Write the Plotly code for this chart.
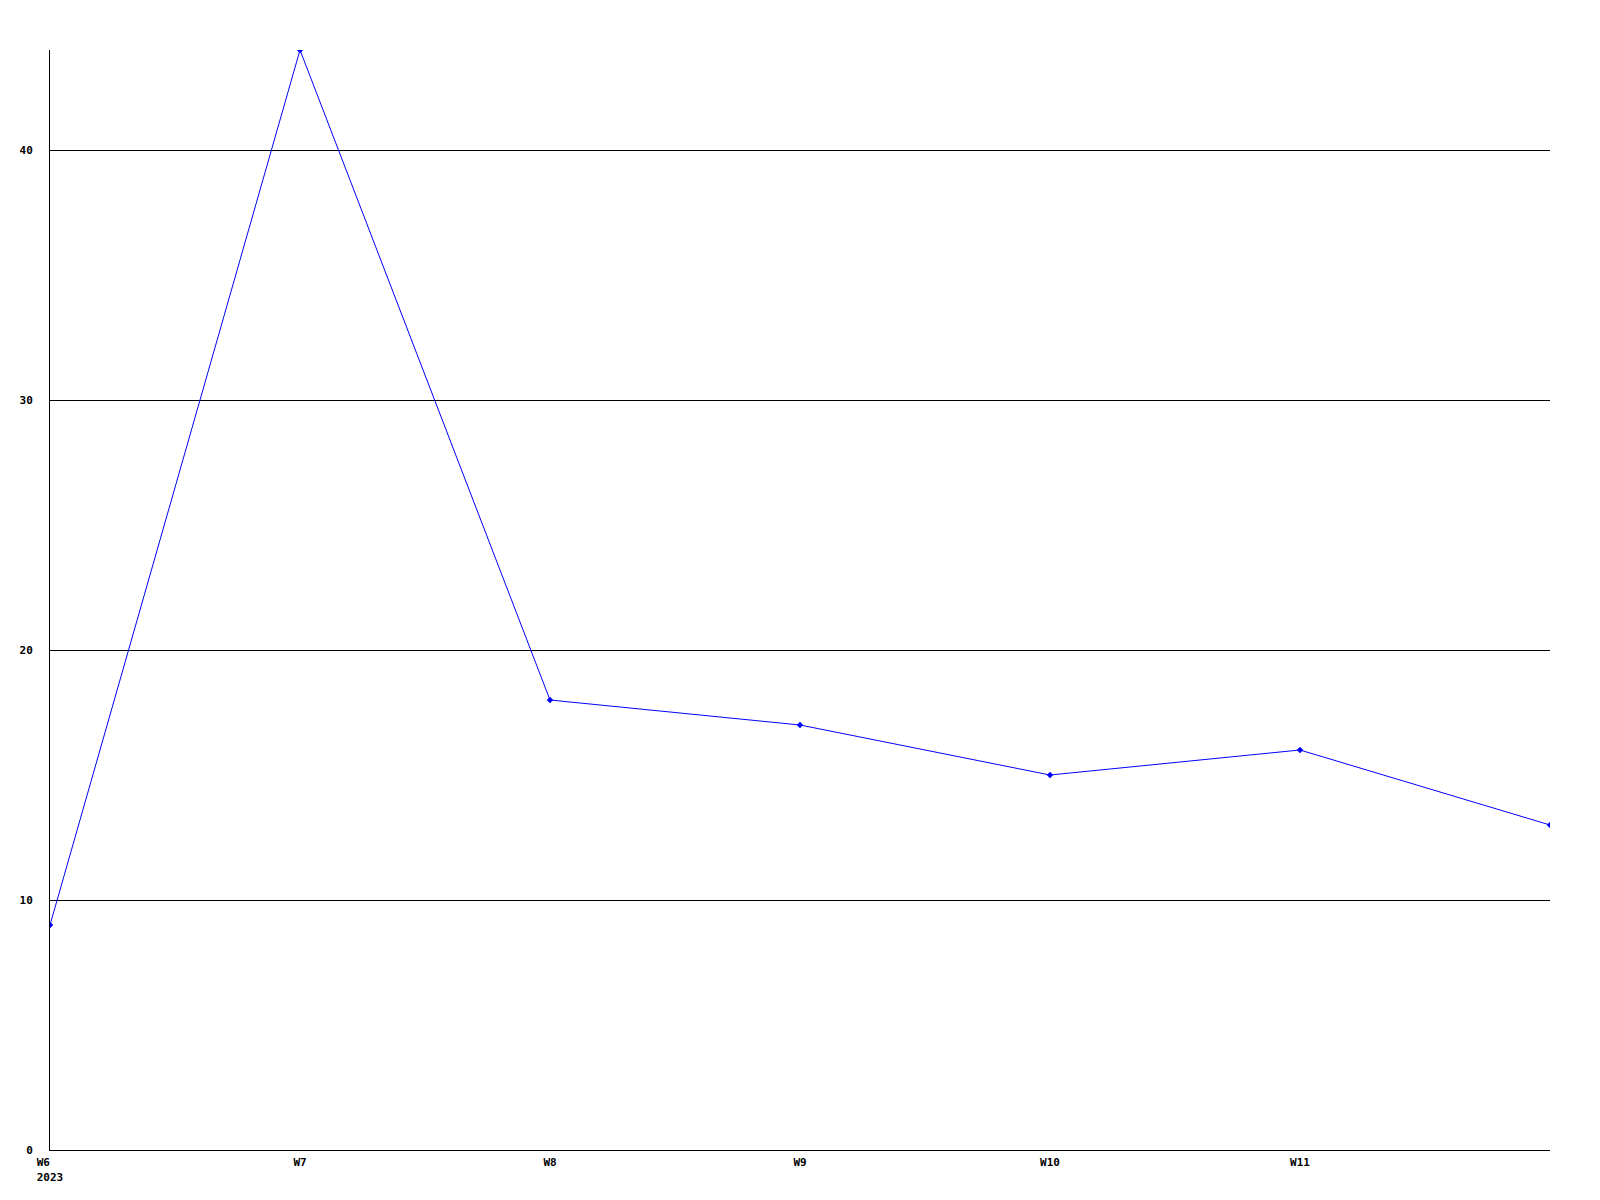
import plotly.graph_objects as go

weeks = ["W6", "W7", "W8", "W9", "W10", "W11", "W12"]
values = [9, 44, 18, 17, 15, 16, 13]
tick_labels = ["W6\u00a0\u00a0<br>2023", "W7", "W8", "W9", "W10", "W11"]
y_ticks = [0, 10, 20, 30, 40]

x_idx = list(range(len(weeks)))

fig = go.Figure()
fig.add_trace(go.Scatter(
    x=x_idx, y=values, mode="lines+markers",
    line=dict(color="#0000ff", width=1),
    marker=dict(symbol="diamond", size=5, color="#0000ff"),
    hoverinfo="x+y",
))

font = dict(family="DejaVu Sans Mono", size=11, color="black", weight="bold")

fig.update_layout(
    width=1600, height=1200, autosize=False,
    margin=dict(l=42, r=58, t=42, b=58),
    paper_bgcolor="white", plot_bgcolor="white",
    showlegend=False,
    xaxis=dict(
        range=[0, 6], tickmode="array", tickvals=x_idx[:len(tick_labels)], ticktext=tick_labels,
        showgrid=False, zeroline=False, showline=True, linecolor="black", linewidth=1,
        ticks="", tickfont=font, ticklabelstandoff=2,
    ),
    yaxis=dict(
        range=[0, 44], tickmode="array", tickvals=y_ticks, ticktext=[str(v) for v in y_ticks],
        showgrid=True, gridcolor="black", gridwidth=1, zeroline=False,
        showline=True, linecolor="black", linewidth=1,
        ticks="", tickfont=font, ticklabelstandoff=14,
    ),
)

fig.write_html("out.html")
